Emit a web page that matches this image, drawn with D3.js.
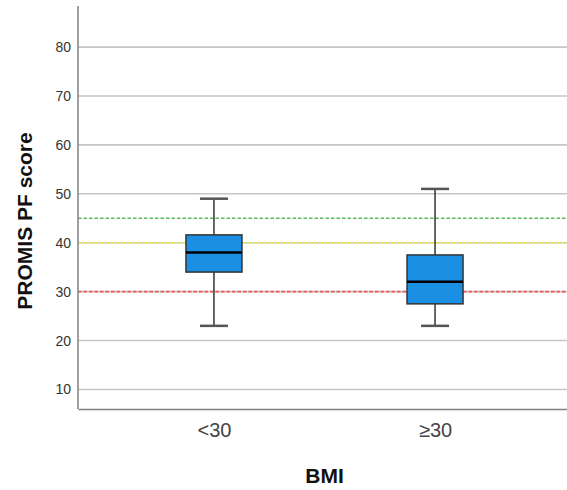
<!DOCTYPE html>
<html>
<head>
<meta charset="utf-8">
<script src="https://cdn.jsdelivr.net/npm/d3@7"></script>
<style>
  html, body { margin: 0; padding: 0; background: #fff; }
</style>
</head>
<body>
<div id="chart"></div>
<script>
// BMI groups and box plot stats
const categories = ["<30", "≥30"];
const whiskerLow = [23, 23];
const q1 = [34, 27.5];
const median = [38, 32];
const q3 = [41.6, 37.5];
const whiskerHigh = [49, 51];

const yTicks = [10, 20, 30, 40, 50, 60, 70, 80];

// reference lines
const refValues = [45, 40, 30];
const refColors = ["#5cb85c", "#e8e83a", "#ec5a5a"];

const boxes = categories.map((c, i) => ({
  cat: c, lo: whiskerLow[i], q1: q1[i], med: median[i], q3: q3[i], hi: whiskerHigh[i]
}));

// Dimensions
const width = 567;
const height = 490;
const marginTop = 6;
const marginLeft = 78;
const plotRight = 571;
const plotBottom = 409;
const font = "'Liberation Sans', Arial, sans-serif";

const x = d3.scalePoint()
  .domain(categories)
  .range([marginLeft, plotRight])
  .padding(0.615);

const y = d3.scaleLinear()
  .domain([6, 88.4])
  .range([plotBottom, marginTop]);

const svg = d3.select("#chart")
  .append("svg")
  .attr("width", width)
  .attr("height", height)
  .style("font-family", font);

// grid lines
svg.append("g")
  .selectAll("line")
  .data(yTicks)
  .join("line")
  .attr("x1", marginLeft)
  .attr("x2", plotRight)
  .attr("y1", d => y(d))
  .attr("y2", d => y(d))
  .attr("stroke", "#c6c6c6")
  .attr("stroke-width", 1.6);

// dashed reference lines
svg.append("g")
  .selectAll("line")
  .data(refValues)
  .join("line")
  .attr("x1", marginLeft)
  .attr("x2", plotRight)
  .attr("y1", d => y(d))
  .attr("y2", d => y(d))
  .attr("stroke", (d, i) => refColors[i])
  .attr("stroke-width", 1.6)
  .attr("stroke-dasharray", "3.5,2");

// y axis
svg.append("g")
  .attr("transform", `translate(${marginLeft},0)`)
  .call(d3.axisLeft(y).tickValues(yTicks).tickSize(0).tickPadding(7))
  .call(g => g.select(".domain").remove())
  .call(g => g.selectAll("text")
    .attr("font-family", font)
    .attr("font-size", "14px")
    .attr("fill", "#333"));

svg.append("line")
  .attr("x1", marginLeft).attr("x2", marginLeft)
  .attr("y1", marginTop).attr("y2", plotBottom)
  .attr("stroke", "#808080")
  .attr("stroke-width", 1.5);

// x axis
svg.append("g")
  .attr("transform", `translate(0,${plotBottom})`)
  .call(d3.axisBottom(x).tickSize(0).tickPadding(14))
  .call(g => g.select(".domain")
    .attr("stroke", "#808080")
    .attr("stroke-width", 1.5))
  .call(g => g.selectAll("text")
    .attr("font-family", font)
    .attr("font-size", "20px")
    .attr("fill", "#444"));

// boxes
const boxW = 56;
const capW = 28;
const b = svg.append("g")
  .selectAll("g")
  .data(boxes)
  .join("g")
  .attr("transform", d => `translate(${x(d.cat)},0)`);

b.append("line")
  .attr("y1", d => y(d.lo))
  .attr("y2", d => y(d.hi))
  .attr("stroke", "#333")
  .attr("stroke-width", 1.5);

b.selectAll(".cap")
  .data(d => [d.lo, d.hi])
  .join("line")
  .attr("class", "cap")
  .attr("x1", -capW / 2)
  .attr("x2", capW / 2)
  .attr("y1", v => y(v))
  .attr("y2", v => y(v))
  .attr("stroke", "#555")
  .attr("stroke-width", 2.5);

b.append("rect")
  .attr("x", -boxW / 2)
  .attr("width", boxW)
  .attr("y", d => y(d.q3))
  .attr("height", d => y(d.q1) - y(d.q3))
  .attr("fill", "#1a8fe3")
  .attr("stroke", "#333")
  .attr("stroke-width", 1.5);

b.append("line")
  .attr("x1", -boxW / 2)
  .attr("x2", boxW / 2)
  .attr("y1", d => y(d.med))
  .attr("y2", d => y(d.med))
  .attr("stroke", "#000")
  .attr("stroke-width", 2.5);

// axis titles
svg.append("text")
  .attr("x", (marginLeft + plotRight) / 2)
  .attr("y", 483)
  .attr("text-anchor", "middle")
  .attr("font-size", "21px")
  .attr("font-weight", "bold")
  .attr("fill", "#111")
  .text("BMI");

svg.append("text")
  .attr("transform", "translate(32,221) rotate(-90)")
  .attr("text-anchor", "middle")
  .attr("font-size", "21px")
  .attr("font-weight", "bold")
  .attr("fill", "#111")
  .text("PROMIS PF score");
</script>
</body>
</html>
